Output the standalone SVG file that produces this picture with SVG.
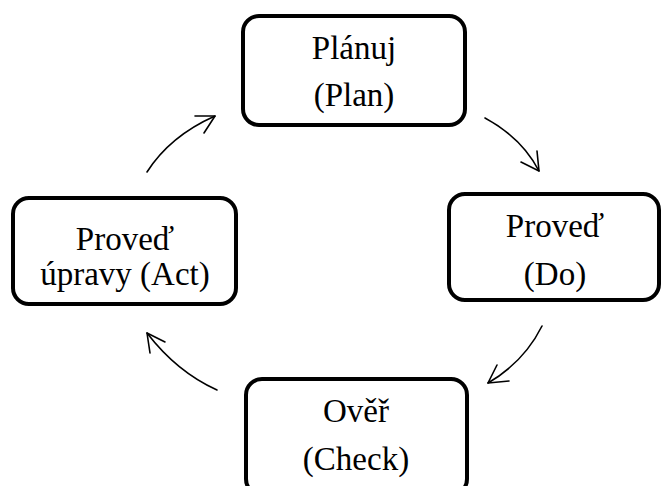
<svg xmlns="http://www.w3.org/2000/svg" width="664" height="486" viewBox="0 0 664 486">
<style>
.box{fill:#fff;stroke:#000;stroke-width:4}
.t{font-family:"Liberation Serif","Times New Roman",serif;font-size:33px;fill:#000;text-anchor:middle}
.c{fill:none;stroke:#000;stroke-width:1.6;stroke-linecap:round;stroke-linejoin:round}
</style>
<rect width="664" height="486" fill="#fff"/>
<g id="plan">
<rect class="box" x="243" y="16" width="222" height="109" rx="16"/>
<text class="t" x="354" y="59">Plánuj</text>
<text class="t" x="354" y="106">(Plan)</text>
</g>
<g id="do">
<rect class="box" x="449" y="194" width="210" height="106" rx="16"/>
<text class="t" x="555" y="237">Proveď</text>
<text class="t" x="555" y="285">(Do)</text>
</g>
<g id="check">
<rect class="box" x="246" y="379" width="221" height="116" rx="16"/>
<text class="t" x="356" y="422">Ověř</text>
<text class="t" x="356" y="470">(Check)</text>
</g>
<g id="act">
<rect class="box" x="13" y="198" width="223" height="106" rx="16"/>
<text class="t" x="125" y="250">Proveď</text>
<text class="t" x="125" y="285">úpravy (Act)</text>
</g>
<g id="connectors">
<path class="c" d="M147,172 Q170,136 215,116"/>
<path class="c" d="M195,116 L215,116 L204,133"/>
<path class="c" d="M485,118 Q522,138 539,171"/>
<path class="c" d="M521,162 L539,171 L537,151"/>
<path class="c" d="M542,326 Q524,362 488,383"/>
<path class="c" d="M509,381 L488,383 L497,365"/>
<path class="c" d="M217,390 Q177,372 147,333"/>
<path class="c" d="M165,342 L147,333 L150,353"/>
</g>
</svg>
